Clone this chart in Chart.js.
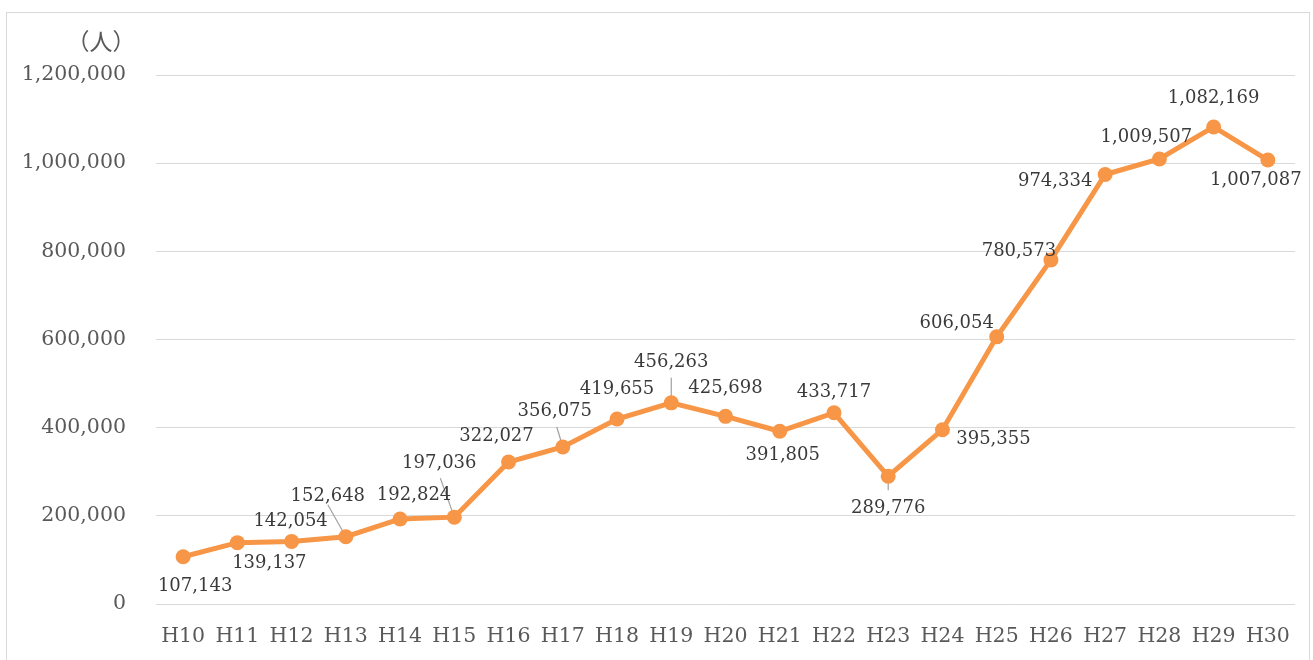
<!DOCTYPE html>
<html>
<head>
<meta charset="utf-8">
<script src="https://cdn.jsdelivr.net/npm/chart.js@4/dist/chart.umd.min.js"></script>
<style>
  html, body { margin: 0; padding: 0; background: #fff; }
  #wrap { position: absolute; left: 0; top: 0; width: 1313px; height: 660px; }
  #frame { position: absolute; left: 6px; top: 12px; width: 1304px; height: 700px; border: 1px solid #d9d9d9; box-sizing: border-box; }
</style>
</head>
<body>
<div id="frame"></div>
<div id="wrap"><canvas id="chart"></canvas></div>
<script>
// 年度（平成）
const categories = ['H10', 'H11', 'H12', 'H13', 'H14', 'H15', 'H16', 'H17', 'H18', 'H19', 'H20',
  'H21', 'H22', 'H23', 'H24', 'H25', 'H26', 'H27', 'H28', 'H29', 'H30'];

// 人数
const visitors = [107143, 139137, 142054, 152648, 192824, 197036, 322027, 356075, 419655, 456263, 425698,
  391805, 433717, 289776, 395355, 606054, 780573, 974334, 1009507, 1082169, 1007087];

// 軸
const yMax = 1200000;
const yStep = 200000;
const unitLabel = '（人）';

// ラベル位置（点からのずれ）
const labelOffsets = [[12, 30], [32, 21], [-1, -20], [-18, -40], [14, -24], [-15, -54], [-12, -26],
  [-8, -36], [0, -30], [0, -41], [0, -28], [3, 24], [0, -20], [0, 32], [51, 10], [-40, -14],
  [-32, -9], [-50, 7], [-13, -22], [0, -29], [-12, 20]];
// 引き出し線
const leaderEnds = [null, null, null, [-18, -32], null, [-14, -39], null, [-6, -20], null, [0, -25],
  null, null, null, [0, 14], null, null, null, null, null, null, null];

const SERIF = '"DejaVu Serif", "Noto Sans CJK JP", serif';
const fmt = v => v.toLocaleString('en-US');

const labelPlugin = {
  id: 'labels',
  beforeDatasetsDraw(chart) {
    const ctx = chart.ctx;
    const meta = chart.getDatasetMeta(0);
    ctx.save();
    ctx.strokeStyle = '#a0a0a0';
    ctx.lineWidth = 1.2;
    meta.data.forEach((pt, i) => {
      const e = leaderEnds[i];
      if (!e) return;
      ctx.beginPath();
      ctx.moveTo(pt.x, pt.y);
      ctx.lineTo(pt.x + e[0], pt.y + e[1]);
      ctx.stroke();
    });
    ctx.restore();
  },
  afterDatasetsDraw(chart) {
    const ctx = chart.ctx;
    const meta = chart.getDatasetMeta(0);
    ctx.save();
    ctx.font = '18px ' + SERIF;
    ctx.fillStyle = '#3a3a3a';
    ctx.textAlign = 'center';
    ctx.textBaseline = 'middle';
    meta.data.forEach((pt, i) => {
      const o = labelOffsets[i];
      ctx.fillText(fmt(visitors[i]), pt.x + o[0], pt.y + o[1]);
    });
    // 単位
    ctx.font = '23px ' + SERIF;
    ctx.fillStyle = '#595959';
    ctx.fillText(unitLabel, 101, 44);
    ctx.restore();
  }
};

new Chart(document.getElementById('chart'), {
  type: 'line',
  data: {
    labels: categories,
    datasets: [{
      data: visitors,
      borderColor: '#f79646',
      backgroundColor: '#f79646',
      borderWidth: 5,
      pointRadius: 7.5,
      pointHoverRadius: 7.5,
      pointBorderWidth: 0,
      tension: 0,
      fill: false
    }]
  },
  options: {
    responsive: true,
    maintainAspectRatio: false,
    animation: false,
    layout: { padding: { top: 75, right: 18, left: 0, bottom: 0 } },
    plugins: {
      legend: { display: false },
      tooltip: { enabled: false }
    },
    scales: {
      x: {
        offset: true,
        grid: { display: false, drawTicks: false },
        border: { display: false },
        ticks: { color: '#595959', font: { family: SERIF, size: 20.5 }, padding: 20, maxRotation: 0, autoSkip: false },
        afterFit(scale) { scale.height = 56; }
      },
      y: {
        min: 0,
        max: yMax,
        grid: { color: '#d9d9d9', lineWidth: 1, drawTicks: false },
        border: { display: false },
        ticks: { stepSize: yStep, color: '#595959', font: { family: SERIF, size: 20.5 }, padding: 30,
          callback: v => fmt(v) },
        afterFit(scale) { scale.width = 156; }
      }
    }
  },
  plugins: [labelPlugin]
});
</script>
</body>
</html>
